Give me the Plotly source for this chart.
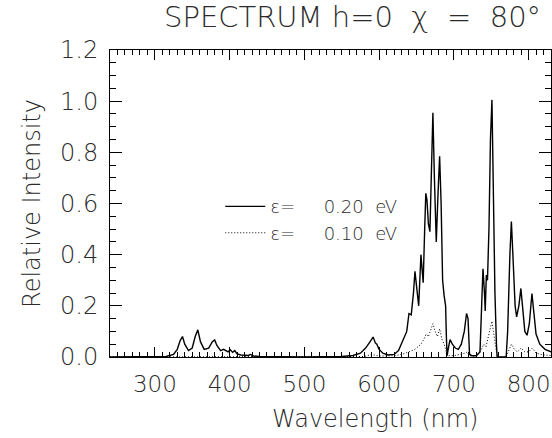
import plotly.graph_objects as go

# Solid curve: epsilon = 0.20 eV
wl_020 = [240, 300, 315, 325, 330, 334, 337, 340, 345, 350, 354, 357.5, 361, 366, 372, 377, 380, 383,
          388, 392, 395, 398, 401, 404, 407, 410, 415, 420, 425, 428, 432, 440, 460, 500, 550, 565,
          575, 582, 588, 592, 595, 597, 600, 605, 612, 620, 626, 631, 634, 637, 640, 643, 646, 648,
          650, 653, 656, 659, 661, 662.5, 664, 666, 668, 670, 672, 674, 676.5, 679, 681, 683, 685,
          687, 689, 690, 691, 693, 695, 698, 702, 706, 710, 714, 717, 719, 721, 724, 730, 735, 737,
          739, 741, 742, 743.5, 745, 747, 749, 751, 753, 755, 757, 758, 770, 772, 775, 777, 779, 782,
          784, 787, 789.7, 792, 795, 798, 801, 804.5, 807, 810, 815, 822, 830, 840, 850]
int_020 = [0, 0, 0.002, 0.01, 0.03, 0.065, 0.08, 0.05, 0.025, 0.035, 0.08, 0.106, 0.06, 0.03, 0.035,
           0.06, 0.067, 0.045, 0.025, 0.03, 0.025, 0.02, 0.028, 0.018, 0.025, 0.012, 0.008, 0.008,
           0.006, 0.01, 0.004, 0.002, 0.001, 0.0, 0.002, 0.006, 0.015, 0.035, 0.06, 0.078, 0.055,
           0.05, 0.03, 0.015, 0.008, 0.01, 0.025, 0.06, 0.08, 0.1, 0.17, 0.165, 0.25, 0.335, 0.28,
           0.2, 0.4, 0.29, 0.5, 0.64, 0.615, 0.52, 0.49, 0.75, 0.955, 0.7, 0.45, 0.65, 0.785, 0.6,
           0.3, 0.24, 0.2, 0.08, 0.005, 0.04, 0.068, 0.05, 0.035, 0.03, 0.05, 0.1, 0.17, 0.15, 0.01,
           0.005, 0.005, 0.02, 0.2, 0.345, 0.25, 0.18, 0.32, 0.3, 0.5, 0.85, 1.005, 0.6, 0.25, 0.05,
           0.0, 0.0, 0.1, 0.4, 0.53, 0.4, 0.2, 0.157, 0.2, 0.268, 0.2, 0.1, 0.085, 0.13, 0.248, 0.18,
           0.09, 0.05, 0.03, 0.02, 0.013, 0.01]

# Dotted curve: epsilon = 0.10 eV
wl_010 = [240, 580, 590, 600, 620, 630, 640, 648, 652, 656, 660, 663, 666, 669, 672, 675, 678, 681,
          684, 687, 690, 693, 700, 715, 718, 721, 730, 737, 740, 743, 746, 749, 751, 753, 755, 757,
          758, 770, 773, 777, 781, 785, 790, 795, 800, 805, 810, 820, 850]
int_010 = [0, 0.002, 0.01, 0.004, 0.005, 0.01, 0.02, 0.03, 0.04, 0.05, 0.07, 0.09, 0.08, 0.11, 0.13,
           0.1, 0.08, 0.11, 0.07, 0.05, 0.02, 0.005, 0.005, 0.015, 0.02, 0.005, 0.003, 0.03, 0.05,
           0.04, 0.08, 0.12, 0.14, 0.1, 0.05, 0.01, 0.0, 0.0, 0.02, 0.05, 0.03, 0.02, 0.035, 0.02,
           0.02, 0.035, 0.015, 0.008, 0.003]

x_ticks = [300, 400, 500, 600, 700, 800]
y_ticks = [0.0, 0.2, 0.4, 0.6, 0.8, 1.0, 1.2]
y_ticklabels = ["0.0", "0.2", "0.4", "0.6", "0.8", "1.0", "1.2"]

NB = "\u00a0"
FONT = "DejaVu Sans"
TXT = "#2a2a2a"

fig = go.Figure()
fig.add_trace(go.Scatter(x=wl_020, y=int_020, mode="lines",
                         line=dict(color="black", width=1.4),
                         name="\u03b5=" + NB * 5 + "0.20" + NB * 2 + "eV"))
fig.add_trace(go.Scatter(x=wl_010, y=int_010, mode="lines",
                         line=dict(color="black", width=1, dash="1px,2px"),
                         name="\u03b5=" + NB * 5 + "0.10" + NB * 2 + "eV"))

axis_common = dict(showline=True, linecolor="black", linewidth=1, mirror="ticks",
                   ticks="inside", tickcolor="black", showgrid=False, zeroline=False)

fig.update_xaxes(range=[240, 830], tickvals=x_ticks, ticklen=10, tickwidth=1,
                 ticklabelstandoff=6, ticklabeloverflow="allow",
                 tickfont=dict(family=FONT, size=23, color=TXT, weight=200),
                 minor=dict(dtick=10, ticks="inside", ticklen=5, tickcolor="black", showgrid=False),
                 **axis_common)
fig.update_yaxes(range=[0, 1.2], tickvals=y_ticks, ticktext=y_ticklabels, ticklen=12, tickwidth=1,
                 ticklabelstandoff=6,
                 tickfont=dict(family=FONT, size=24, color=TXT, weight=200),
                 minor=dict(dtick=0.05, ticks="inside", ticklen=6, tickcolor="black", showgrid=False),
                 title=dict(text="Relative Intensity", font=dict(family=FONT, size=24, color=TXT, weight=200),
                            standoff=12),
                 **axis_common)

fig.add_annotation(text="Wavelength (nm)", xref="paper", yref="paper", x=0.6, y=-0.15,
                   xanchor="center", yanchor="top", showarrow=False,
                   font=dict(family=FONT, size=24, color=TXT, weight=200))

fig.update_layout(
    width=552, height=438,
    margin=dict(l=110, r=1, t=50, b=81),
    paper_bgcolor="white", plot_bgcolor="white",
    title=dict(text="SPECTRUM" + NB + "h=0" + NB * 2 + "\u03c7" + NB * 2 + "=" + NB * 2 + "80\u00b0",
               x=0.55, xref="paper", xanchor="center", y=0.985,
               yanchor="top", font=dict(family=FONT, size=29, color=TXT, weight=200)),
    showlegend=True,
    legend=dict(x=0.25, y=0.55, xanchor="left", yanchor="top", bgcolor="rgba(0,0,0,0)",
                itemwidth=40,
                font=dict(family=FONT, size=18, color=TXT, weight=200), tracegroupgap=2),
)

fig.write_html("out.html")
